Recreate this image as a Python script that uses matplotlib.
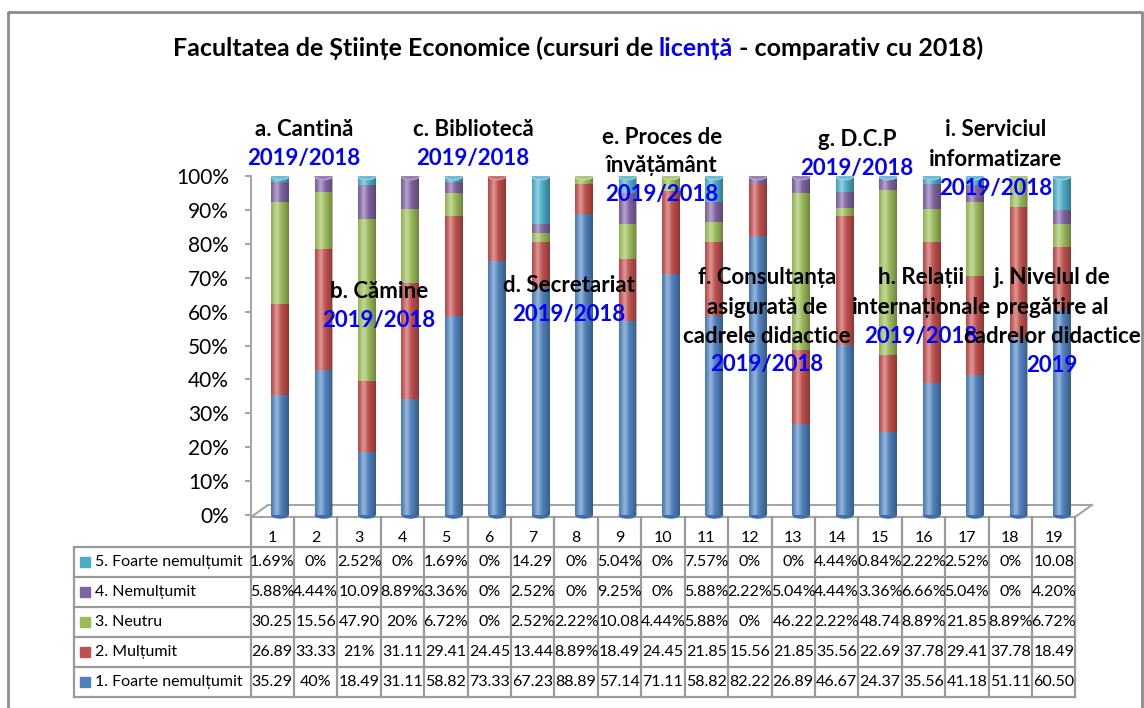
import numpy as np
import matplotlib.pyplot as plt
from matplotlib.patches import Ellipse, Rectangle
from matplotlib.colors import to_rgb

W, H = 1144, 708

questions = [str(i) for i in range(1, 20)]
series_names = ["1. Foarte nemulțumit", "2. Mulțumit", "3. Neutru",
                "4. Nemulțumit", "5. Foarte nemulțumit"]
colors = ["#4F81BD", "#C0504D", "#9BBB59", "#8064A2", "#4BACC6"]

s1 = [35.29, 40, 18.49, 31.11, 58.82, 73.33, 67.23, 88.89, 57.14, 71.11,
      58.82, 82.22, 26.89, 46.67, 24.37, 35.56, 41.18, 51.11, 60.50]
s2 = [26.89, 33.33, 21, 31.11, 29.41, 24.45, 13.44, 8.89, 18.49, 24.45,
      21.85, 15.56, 21.85, 35.56, 22.69, 37.78, 29.41, 37.78, 18.49]
s3 = [30.25, 15.56, 47.90, 20, 6.72, 0, 2.52, 2.22, 10.08, 4.44,
      5.88, 0, 46.22, 2.22, 48.74, 8.89, 21.85, 8.89, 6.72]
s4 = [5.88, 4.44, 10.09, 8.89, 3.36, 0, 2.52, 0, 9.25, 0,
      5.88, 2.22, 5.04, 4.44, 3.36, 6.66, 5.04, 0, 4.20]
s5 = [1.69, 0, 2.52, 0, 1.69, 0, 14.29, 0, 5.04, 0,
      7.57, 0, 0, 4.44, 0.84, 2.22, 2.52, 0, 10.08]
series = [s1, s2, s3, s4, s5]

title_parts = ["Facultatea de Științe Economice (cursuri de ", "licență",
               " - comparativ cu 2018)"]

# label groups: (lines in black, line in blue, centre x px, first line y px)
labels = [
    (["a. Cantină"], "2019/2018", 304, 130),
    (["b. Cămine"], "2019/2018", 379, 292),
    (["c. Bibliotecă"], "2019/2018", 473, 130),
    (["d. Secretariat"], "2019/2018", 569, 286),
    (["e. Proces de", "învățământ"], "2019/2018", 662, 137),
    (["f. Consultanța", "asigurată de", "cadrele didactice"], "2019/2018", 767, 278),
    (["g. D.C.P"], "2019/2018", 857, 140),
    (["h. Relații", "internaționale"], "2019/2018", 921, 278),
    (["i. Serviciul", "informatizare"], "2019/2018", 996, 130),
    (["j. Nivelul de", "pregătire al", "cadrelor didactice"], "2019", 1052, 278),
]

BLUE_TXT = "#0000FF"
plt.rcParams["font.family"] = ["Lato", "DejaVu Sans"]


def fx(x):
    return x / W


def fy(y):
    return 1 - y / H


def cell_text(v):
    if v == 0:
        return "0%"
    if float(v).is_integer():
        return f"{int(v)}%"
    if v < 10:
        return f"{v:.2f}%"
    return f"{v:.2f}"


fig = plt.figure(figsize=(W / 100, H / 100), dpi=100)

# background layer: frame, floor, table
bg = fig.add_axes([0, 0, 1, 1], zorder=0)
bg.set_xlim(0, W)
bg.set_ylim(H, 0)
bg.axis("off")
frame = "#8c8c8c"
bg.plot([8, 8, 1142, 1142], [H + 5, 12, 12, H + 5], color=frame, lw=2)

fl = "#a6a6a6"
bg.plot([251, 1075], [517, 517], color=fl, lw=1.5)
bg.plot([268, 1092], [505, 505], color=fl, lw=1.5)
bg.plot([251, 268], [517, 505], color=fl, lw=1.5)
bg.plot([1075, 1092], [517, 505], color=fl, lw=1.5)

# data table
tl, cw = 250.5, 43.42
top, rh = 517, 30
n = len(questions)
grid = "#9a9a9a"
fs_tab = 11.5
for k in range(n + 1):
    bg.plot([tl + cw * k] * 2, [top, top + rh * 6], color=grid, lw=1.6)
bg.plot([74, 74], [top + rh, top + rh * 6], color=grid, lw=1.6)
for r in range(1, 7):
    bg.plot([74, tl + cw * n], [top + rh * r] * 2, color=grid, lw=1.6)
for k, q in enumerate(questions):
    bg.text(tl + cw * (k + 0.5), top + rh * 0.7, q, ha="center", va="center",
            fontsize=fs_tab)
for r, idx in enumerate(range(4, -1, -1)):
    yc = top + rh * (r + 1.5)
    bg.add_patch(Rectangle((80, yc - 5), 10, 10, color=colors[idx]))
    bg.text(95, yc, series_names[idx], ha="left", va="center", fontsize=fs_tab)
    for k, v in enumerate(series[idx]):
        bg.text(tl + cw * (k + 0.5), yc, cell_text(v), ha="center",
                va="center", fontsize=fs_tab)

# bars
ax = fig.add_axes([fx(251), fy(515), fx(1090) - fx(251), fy(176) - fy(515)],
                  zorder=1)
ax.patch.set_visible(False)
x = np.arange(1, n + 1)
vals = np.array(series, dtype=float)
pct = vals / vals.sum(axis=0) * 100
bw = 0.41
bottom = np.zeros(n)
for i in range(5):
    ax.bar(x, pct[i], bottom=bottom, width=bw, color=colors[i], zorder=3)
    bottom += pct[i]

t = np.linspace(0, 1, 64)
hi = np.zeros((1, 64, 4))
hi[..., :3] = 1
hi[0, :, 3] = 0.38 * np.exp(-((t - 0.32) / 0.17) ** 2)
sh = np.zeros((1, 64, 4))
sh[0, :, 3] = 0.3 * np.clip((np.abs(t - 0.32) - 0.15) / 0.53, 0, 1) ** 1.5
cap_h = 2.2


def lighten(c, f):
    r = np.array(to_rgb(c))
    return tuple(r + (1 - r) * f)


for k in range(n):
    xc = x[k]
    ax.imshow(sh, extent=[xc - bw / 2, xc + bw / 2, 0, 100], aspect="auto",
              zorder=4, interpolation="bilinear")
    ax.imshow(hi, extent=[xc - bw / 2, xc + bw / 2, 0, 100], aspect="auto",
              zorder=4, interpolation="bilinear")
    top_i = max(i for i in range(5) if pct[i, k] > 0)
    ax.add_patch(Ellipse((xc, 100), bw, cap_h, facecolor=lighten(colors[top_i], 0.2),
                         edgecolor=lighten(colors[top_i], 0.45), lw=0.8, zorder=5))
    ax.add_patch(Ellipse((xc, 0), bw, cap_h, facecolor="#3f6fa8", zorder=2,
                         clip_on=False))

ax.set_xlim(1 - 29 / 43.44, 1 + 810 / 43.44)
ax.set_ylim(0, 100)
ax.set_yticks(np.arange(0, 101, 10))
ax.set_yticklabels([f"{v}%" for v in range(0, 101, 10)], fontsize=15)
ax.tick_params(axis="y", length=4.5, color=fl, width=1.5, pad=11.5)
ax.tick_params(axis="x", bottom=False, labelbottom=False)
for side in ["top", "right", "bottom"]:
    ax.spines[side].set_visible(False)
ax.spines["left"].set_color(fl)
ax.spines["left"].set_linewidth(1.5)

# title with a blue word
renderer = fig.canvas.get_renderer()
title_colors = ["black", BLUE_TXT, "black"]
parts = []
for s, c in zip(title_parts, title_colors):
    parts.append(fig.text(0, fy(48), s, color=c, fontsize=18,
                          fontweight="bold", ha="left", va="center", zorder=10))
widths = [p.get_window_extent(renderer).width for p in parts]
x0 = 578 - sum(widths) / 2
for p, w in zip(parts, widths):
    p.set_x(fx(x0))
    x0 += w

# group labels
for lines, sub, cx, y0 in labels:
    for j, s in enumerate(lines):
        fig.text(fx(cx), fy(y0 + 29 * j), s, ha="center", va="center",
                 fontsize=16, fontweight="bold", color="black", zorder=10)
    fig.text(fx(cx), fy(y0 + 29 * len(lines)), sub, ha="center", va="center",
             fontsize=16, fontweight="bold", color=BLUE_TXT, zorder=10)

fig.savefig("out.png", dpi=100)
